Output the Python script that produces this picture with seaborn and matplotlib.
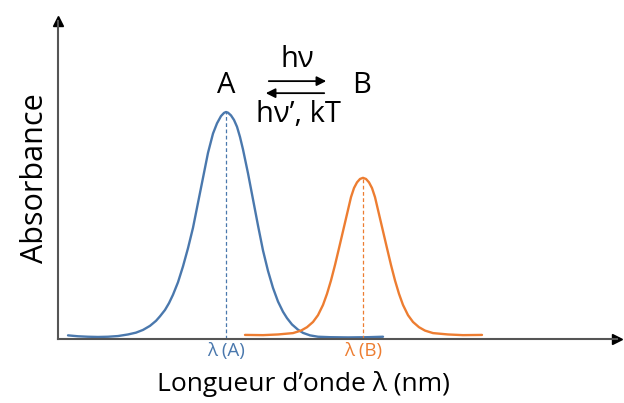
import matplotlib
matplotlib.use("Agg")
import matplotlib.pyplot as plt
import seaborn as sns
import pandas as pd

# spectrum of A (blue)
lam_a = [10, 20, 30, 40, 50, 60, 70, 78, 85, 92, 98, 102, 107, 111, 115, 120, 125, 130,
         135, 140, 145, 150, 155, 159, 163, 166, 168, 170, 173, 176, 179, 182, 185, 190,
         195, 200, 205, 210, 215, 220, 225, 229, 234, 240, 245, 252, 260, 272, 290, 310, 325]
abs_a = [0.016, 0.012, 0.010, 0.009, 0.010, 0.013, 0.020, 0.028, 0.040, 0.058, 0.080, 0.100,
         0.128, 0.158, 0.195, 0.250, 0.320, 0.400, 0.490, 0.600, 0.710, 0.820, 0.905, 0.950,
         0.982, 0.996, 1.000, 0.997, 0.985, 0.965, 0.935, 0.890, 0.835, 0.730, 0.615, 0.500,
         0.390, 0.300, 0.225, 0.165, 0.120, 0.092, 0.064, 0.041, 0.027, 0.016, 0.010, 0.008,
         0.007, 0.008, 0.010]

# spectrum of B (orange)
lam_b = [187, 205, 220, 235, 243, 249, 255, 260, 265, 269, 273, 277, 281, 285, 289, 293,
         296, 299, 302, 305, 308, 311, 314, 317, 321, 325, 329, 333, 337, 341, 345, 350,
         355, 361, 367, 375, 390, 405, 424]
abs_b = [0.018, 0.017, 0.020, 0.026, 0.037, 0.052, 0.075, 0.105, 0.150, 0.199, 0.258, 0.326,
         0.400, 0.475, 0.550, 0.625, 0.665, 0.690, 0.705, 0.710, 0.705, 0.690, 0.665, 0.625,
         0.550, 0.475, 0.400, 0.326, 0.258, 0.199, 0.150, 0.105, 0.075, 0.052, 0.037, 0.026,
         0.020, 0.017, 0.018]

peak_a = 168
peak_b = 305

blue = "#4a78ad"
orange = "#ed7d31"

sns.set_theme(style="white")
plt.rcParams["font.family"] = ["Open Sans", "DejaVu Sans"]
plt.rcParams["text.color"] = "black"

fig = plt.figure(figsize=(6.24, 4.03), dpi=100)
ax = fig.add_axes([58 / 624, 64 / 403, 559 / 624, 318 / 403])

df_a = pd.DataFrame({"lam": lam_a, "abs": abs_a})
df_b = pd.DataFrame({"lam": lam_b, "abs": abs_b})
sns.lineplot(data=df_a, x="lam", y="abs", color=blue, linewidth=1.7, ax=ax, sort=False)
sns.lineplot(data=df_b, x="lam", y="abs", color=orange, linewidth=1.7, ax=ax, sort=False)

# dashed drop lines at the maxima
ax.vlines(peak_a, 0, max(abs_a), colors=blue, linestyles=(0, (3, 2)), linewidth=0.9)
ax.vlines(peak_b, 0, max(abs_b), colors=orange, linestyles=(0, (3, 2)), linewidth=0.9)

ax.set_xlim(0, 559)
ax.set_ylim(0, 318 / 227)
ax.set_xticks([])
ax.set_yticks([])
for s in ["top", "right"]:
    ax.spines[s].set_visible(False)
for s in ["left", "bottom"]:
    ax.spines[s].set_color("#555555")
    ax.spines[s].set_linewidth(1.5)

# arrow heads on the axes
ax.plot(1, 0, ">", color="black", markersize=7, transform=ax.transAxes, clip_on=False)
ax.plot(0, 1, "^", color="black", markersize=7, transform=ax.transAxes, clip_on=False)

ax.set_xlabel("")
ax.set_ylabel("")
fig.text(35 / 624, 1 - 178 / 403, "Absorbance", rotation=90, fontsize=22,
         ha="center", va="center")
fig.text(303 / 624, 1 - 384 / 403, "Longueur d\u2019onde \u03bb (nm)", fontsize=19,
         ha="center", va="center")

ax.text(peak_a, -0.055, "\u03bb (A)", color=blue, fontsize=13.5, ha="center", va="center")
ax.text(peak_b, -0.055, "\u03bb (B)", color=orange, fontsize=13.5, ha="center", va="center")

# photochromic equilibrium
ax.text(168, 1.115, "A", fontsize=21, ha="center", va="center")
ax.text(304, 1.115, "B", fontsize=21, ha="center", va="center")
ax.text(239, 1.23, "h\u03bd", fontsize=21, ha="center", va="center")
ax.text(240, 0.99, "h\u03bd\u2019, kT", fontsize=21, ha="center", va="center")
ax.annotate("", xy=(271, 1.136), xytext=(208, 1.136),
            arrowprops=dict(arrowstyle="-|>", color="black", lw=1.3, mutation_scale=14))
ax.annotate("", xy=(205, 1.083), xytext=(269, 1.083),
            arrowprops=dict(arrowstyle="-|>", color="black", lw=1.3, mutation_scale=14))

fig.savefig("out.png", dpi=100)
